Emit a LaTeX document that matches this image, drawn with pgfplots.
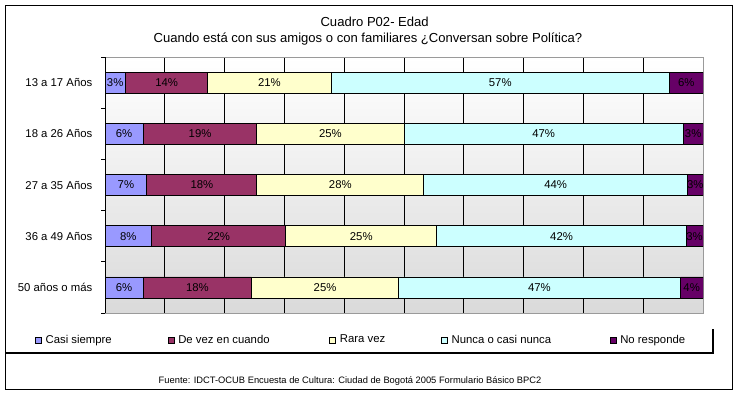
\documentclass[border=0pt]{standalone}
\usepackage{fontspec}
\setmainfont{Liberation Sans}
\usepackage{pgfplots}
\usepackage{pgfplotstable}
\pgfplotsset{compat=1.18}
\definecolor{cCS}{HTML}{9999FF}
\definecolor{cDV}{HTML}{993366}
\definecolor{cRV}{HTML}{FFFFCC}
\definecolor{cNC}{HTML}{CCFFFF}
\definecolor{cNR}{HTML}{660066}
\definecolor{bggray}{HTML}{DADADA}
\definecolor{edgegray}{HTML}{9A9A9A}
\pgfplotstableread{
g cs dv rv nc nr
0 3.4 13.8 20.6 56.6 5.6
1 6.4 19.0 24.6 46.7 3.3
2 7.0 18.4 27.9 44.1 2.6
3 7.8 22.4 25.3 41.7 2.8
4 6.4 18.1 24.6 47.1 3.8
}\datatable
\pgfplotsset{
  lgimg/.style={legend image code/.code={\draw[##1,line width=0.5pt] (0pt,-2.25pt) rectangle (4.5pt,2.25pt);}},
}
\newcommand{\lf}{\fontsize{8.5}{10}\selectfont}
\begin{document}
\begin{tikzpicture}
\useasboundingbox (0pt,0pt) rectangle (554.25pt,295.5pt);
\draw[line width=0.75pt] (3.75pt,3.75pt) rectangle (549pt,291.75pt);
\node[font=\fontsize{9.8}{11}\selectfont] at (281pt,279pt) {Cuadro P02- Edad};
\node[font=\fontsize{9.8}{11}\selectfont] at (276pt,266.25pt) {Cuando está con sus amigos o con familiares ¿Conversan sobre Política?};
\draw[line width=1.5pt] (3.75pt,30.75pt) -- (534.75pt,30.75pt) -- (534.75pt,48.75pt);
\node[font=\fontsize{7}{8}\selectfont] at (262.5pt,9.75pt) {Fuente: IDCT-OCUB Encuesta de Cultura: Ciudad de Bogotá 2005 Formulario Básico BPC2};
\begin{axis}[
  at={(78.75pt,60.75pt)}, anchor=south west,
  scale only axis, width=448.5pt, height=192pt,
  xbar stacked, bar width=0.41,
  xmin=0, xmax=100, ymin=-0.5, ymax=4.5, y dir=reverse,
  xtick={0,10,...,90}, xticklabels={}, xmajorgrids,
  grid style={black, line width=0.6pt},
  major tick length=0pt,
  ytick={0,...,4},
  yticklabels={13 a 17 Años, 18 a 26 Años, 27 a 35 Años, 36 a 49 Años, 50 años o más},
  minor ytick={-0.5,0.5,...,4.5}, minor tick length=3pt, tick align=outside,
  ytick pos=left, xtick pos=bottom,
  minor tick style={black, line width=0.6pt},
  yticklabel style={font=\lf, xshift=-6pt},
  axis line style={draw=edgegray, line width=0.75pt},
  axis background/.style={top color=white, bottom color=bggray},
  /pgf/number format/assume math mode=true,
  visualization depends on={rawx \as \rawx},
  nodes near coords={\pgfmathprintnumber[fixed,precision=0,assume math mode=true]{\rawx}\%},
  every node near coord/.append style={anchor=center, font=\lf, text=black},
  legend columns=5,
  legend style={at={(axis description cs:-0.1171,-0.1055)}, anchor=west, draw=none, fill=none,
    inner sep=0pt, outer sep=0pt, nodes={inner sep=0pt}, font=\lf,
    /tikz/every odd column/.append style={column sep=3pt}},
  legend cell align=left,
  after end axis/.code={\draw[black, line width=0.75pt] (axis description cs:0,0) -- (axis description cs:0,1);},
]
\addplot[fill=cCS, draw=black, line width=0.6pt, lgimg] table[x=cs,y=g] {\datatable};
\addplot[fill=cDV, draw=black, line width=0.6pt, lgimg] table[x=dv,y=g] {\datatable};
\addplot[fill=cRV, draw=black, line width=0.6pt, lgimg] table[x=rv,y=g] {\datatable};
\addplot[fill=cNC, draw=black, line width=0.6pt, lgimg] table[x=nc,y=g] {\datatable};
\addplot[fill=cNR, draw=black, line width=0.6pt, lgimg] table[x=nr,y=g] {\datatable};
\legend{\makebox[91.5pt][l]{Casi siempre}, \makebox[113.25pt][l]{De vez en cuando}, \makebox[75.75pt][l]{Rara vez}, \makebox[118.5pt][l]{Nunca o casi nunca}, No responde}
\end{axis}
\end{tikzpicture}
\end{document}
